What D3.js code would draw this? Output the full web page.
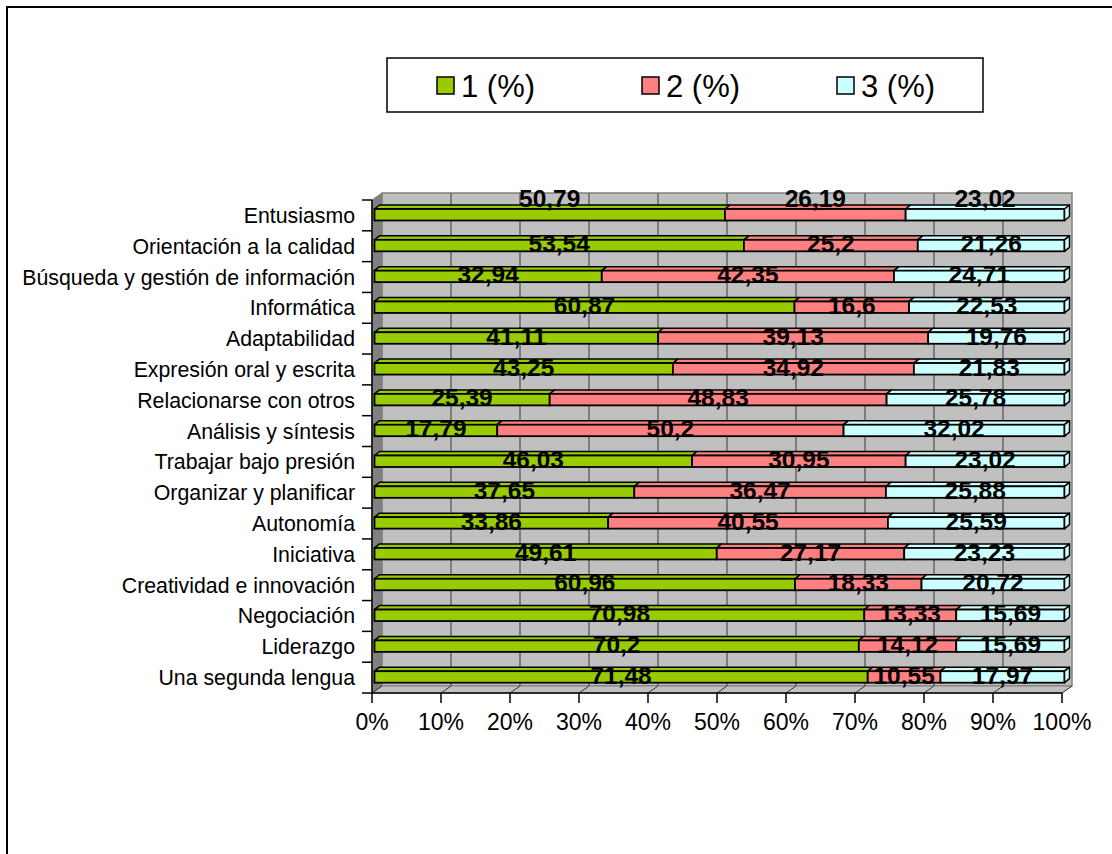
<!DOCTYPE html>
<html><head><meta charset="utf-8">
<script src="https://cdn.jsdelivr.net/npm/d3@7"></script>
<style>body{margin:0;background:#fff}svg{display:block;font-family:"Liberation Sans",Arial,sans-serif}</style>
</head><body><svg id="c" width="1112" height="854"></svg>
<script>
const categories = ["Entusiasmo","Orientación a la calidad","Búsqueda y gestión de información","Informática","Adaptabilidad","Expresión oral y escrita","Relacionarse con otros","Análisis y síntesis","Trabajar bajo presión","Organizar y planificar","Autonomía","Iniciativa","Creatividad e innovación","Negociación","Liderazgo","Una segunda lengua"];
const series1 = [50.79,53.54,32.94,60.87,41.11,43.25,25.39,17.79,46.03,37.65,33.86,49.61,60.96,70.98,70.2,71.48];
const series2 = [26.19,25.2,42.35,16.6,39.13,34.92,48.83,50.2,30.95,36.47,40.55,27.17,18.33,13.33,14.12,10.55];
const series3 = [23.02,21.26,24.71,22.53,19.76,21.83,25.78,32.02,23.02,25.88,25.59,23.23,20.72,15.69,15.69,17.97];
const seriesNames = ["1 (%)","2 (%)","3 (%)"];
const colors = ["#99CC00","#FF8080","#CCFFFF"];
const ticks = [0,10,20,30,40,50,60,70,80,90,100];

const svg = d3.select("#c");
svg.append("rect").attr("x",7).attr("y",7).attr("width",1120).attr("height",860)
  .attr("fill","#fff").attr("stroke","#000").attr("stroke-width",2);

const x = d3.scaleLinear().domain([0,100]).range([372,1062]);
const y = d3.scaleBand().domain(categories).range([200,693]).padding(0);
const DX = 10, DY = -7;
const x0 = x(0), x1 = x(100), yTop = 200, yBot = 693;

const g = svg.append("g");
g.append("polygon").attr("points",[[x0+DX,yTop+DY],[x1+DX,yTop+DY],[x1+DX,yBot+DY],[x0+DX,yBot+DY]].join(" "))
  .attr("fill","#C0C0C0").attr("stroke","#808080").attr("stroke-width",1.5);
g.append("polygon").attr("points",[[x0,yTop],[x0+DX,yTop+DY],[x0+DX,yBot+DY],[x0,yBot]].join(" "))
  .attr("fill","#808080").attr("stroke","#808080").attr("stroke-width",1);
g.append("polygon").attr("points",[[x0,yBot],[x0+DX,yBot+DY],[x1+DX,yBot+DY],[x1,yBot]].join(" "))
  .attr("fill","#C0C0C0").attr("stroke","#808080").attr("stroke-width",1);
ticks.forEach(t=>{
  if(t>0 && t<100) g.append("line").attr("x1",x(t)+DX).attr("x2",x(t)+DX).attr("y1",yTop+DY).attr("y2",yBot+DY)
    .attr("stroke","#666").attr("stroke-width",1.5);
  g.append("line").attr("x1",x(t)).attr("x2",x(t)+DX).attr("y1",yBot).attr("y2",yBot+DY)
    .attr("stroke","#333").attr("stroke-width",1);
});

const bw = y.bandwidth();
const FX = 2.5, BH = 11.5, TX = 5, TY = -4;
const data = categories.map((c,i)=>{
  const vals=[series1[i],series2[i],series3[i]];
  const tot=d3.sum(vals); let acc=0;
  return vals.map((v,k)=>{const s=acc/tot*100; acc+=v; return {c,i,k,v,s,e:acc/tot*100};});
});
const bars = g.append("g");
data.forEach(row=>{
  row.forEach(d=>{
    const fy = y(d.c) + 9;
    const xa = x(d.s)+FX, xb = x(d.e)+FX;
    bars.append("polygon").attr("points",[[xa,fy],[xa+TX,fy+TY],[xb+TX,fy+TY],[xb,fy]].join(" "))
      .attr("fill",colors[d.k]).attr("stroke","#000").attr("stroke-width",1.5).attr("stroke-linejoin","round");
    bars.append("rect").attr("x",xa).attr("y",fy).attr("width",xb-xa).attr("height",BH)
      .attr("fill",colors[d.k]).attr("stroke","#000").attr("stroke-width",1.8);
    if(d.k===2){
      bars.append("polygon").attr("points",[[xb,fy],[xb+TX,fy+TY],[xb+TX,fy+TY+BH],[xb,fy+BH]].join(" "))
        .attr("fill",colors[d.k]).attr("stroke","#000").attr("stroke-width",1.5).attr("stroke-linejoin","round");
    }
  });
});

g.append("line").attr("x1",x0).attr("x2",x0).attr("y1",yTop).attr("y2",yBot).attr("stroke","#000").attr("stroke-width",1.5);
g.append("line").attr("x1",x0).attr("x2",x1).attr("y1",yBot).attr("y2",yBot).attr("stroke","#000").attr("stroke-width",1.5);
const catTicks = categories.map(c=>y(c)).concat([yBot]);
catTicks.forEach(t=>g.append("line").attr("x1",x0-10).attr("x2",x0).attr("y1",t).attr("y2",t).attr("stroke","#000").attr("stroke-width",1.5));
ticks.forEach(t=>{
  g.append("line").attr("x1",x(t)).attr("x2",x(t)).attr("y1",yBot).attr("y2",yBot+10).attr("stroke","#000").attr("stroke-width",1.5);
  g.append("text").attr("x",x(t)).attr("y",730).attr("text-anchor","middle").attr("font-size",23).text(t+"%");
});
categories.forEach(c=>{
  g.append("text").attr("x",355).attr("y",y(c)+bw/2+7.5).attr("text-anchor","end").attr("font-size",21.3).text(c);
});

data.forEach(row=>{
  row.forEach(d=>{
    const fc = y(d.c)+9+BH/2 + (d.i===0 ? -17 : -2);
    g.append("text").attr("x",(x(d.s)+x(d.e))/2+FX).attr("y",fc).attr("dy","0.36em")
      .attr("text-anchor","middle").attr("font-size",24.5).attr("font-weight","bold")
      .text(String(d.v).replace(".",","));
  });
});

const lg = svg.append("g");
lg.append("rect").attr("x",387).attr("y",58).attr("width",596).attr("height",54).attr("fill","#fff").attr("stroke","#000").attr("stroke-width",1.5);
const lx = [437,642,837];
seriesNames.forEach((n,k)=>{
  lg.append("rect").attr("x",lx[k]).attr("y",77).attr("width",17).attr("height",17).attr("fill",colors[k]).attr("stroke","#000").attr("stroke-width",1.5);
  lg.append("text").attr("x",lx[k]+24).attr("y",97).attr("font-size",31).text(n);
});
</script></body></html>
